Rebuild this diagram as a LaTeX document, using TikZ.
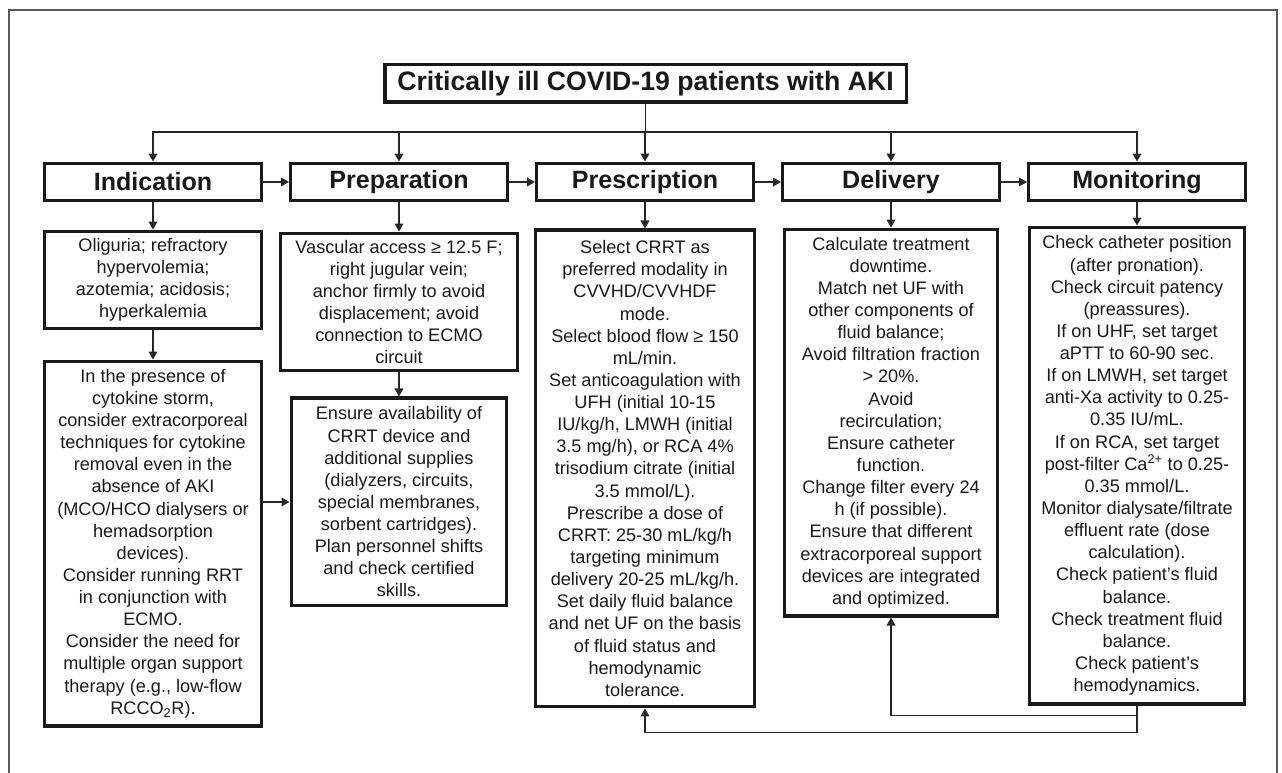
\documentclass[tikz,border=0pt]{standalone}
\usepackage{fontspec}
\setsansfont{Liberation Sans}
\RequirePackage{xcolor}
\tikzset{every picture/.style={/utils/exec={\sffamily}}}
\usetikzlibrary{positioning}
\usetikzlibrary{arrows.meta}

\begin{document}
\begin{tikzpicture}[x=0.75pt, y=-0.75pt,
    link/.style={draw=black!85, line width=1.1pt, -{Triangle[length=6pt,width=6.5pt]}},
    box/.style={draw=black!90, line width=2.6pt, align=center, inner sep=2pt, text=black!90},
    stagebox/.style={box, minimum width=162.4pt, minimum height=28.1pt, font=\fontsize{18.8pt}{22pt}\selectfont\bfseries},
    infobox/.style={box, font=\fontsize{13.6pt}{16.6pt}\selectfont}]
  \useasboundingbox (0,0) rectangle (1282,773);
  \draw [black!65, line width=1.5pt] (9,773) -- (9,10) -- (1277,10) -- (1277,773);

  \node [box, minimum width=391.1pt, minimum height=28.1pt, font=\fontsize{20pt}{24pt}\selectfont\bfseries] (title) at (645.5,83.5) {Critically ill COVID-19 patients with AKI};

  \begin{scope}[node distance=19.5pt]
    \node [stagebox] (ind) at (153,182) {Indication};
    \node [stagebox, right=of ind] (prep) {Preparation};
    \node [stagebox, right=of prep] (presc) {Prescription};
    \node [stagebox, right=of presc] (deliv) {Delivery};
    \node [stagebox, right=of deliv] (monit) {Monitoring};
  \end{scope}

  \node [infobox, below=20.3pt of ind, minimum width=162.4pt, minimum height=73.1pt] (ind1) {Oliguria; refractory\\hypervolemia;\\azotemia; acidosis;\\hyperkalemia};
  \node [infobox, below=21.8pt of ind1, minimum width=162.4pt, minimum height=273.4pt] (ind2) {In the presence of\\cytokine storm,\\consider extracorporeal\\techniques for cytokine\\removal even in the\\absence of AKI\\(MCO/HCO dialysers or\\hemadsorption\\devices).\\Consider running RRT\\in conjunction with\\ECMO.\\Consider the need for\\multiple organ support\\therapy (e.g., low-flow\\RCCO\textsubscript{2}R).};

  \node [infobox, below=21.8pt of prep, minimum width=178.1pt, minimum height=103.1pt] (prep1) {Vascular access ≥ 12.5 F;\\right jugular vein;\\anchor firmly to avoid\\displacement; avoid\\connection to ECMO\\circuit};
  \node [infobox, below=18pt of prep1, minimum width=161.6pt, minimum height=155.6pt] (prep2) {Ensure availability of\\CRRT device and\\additional supplies\\(dialyzers, circuits,\\special membranes,\\sorbent cartridges).\\Plan personnel shifts\\and check certified\\skills.};

  \node [infobox, below=19.5pt of presc, minimum width=163.9pt, minimum height=357.4pt] (presc1) {Select CRRT as\\preferred modality in\\CVVHD/CVVHDF\\mode.\\Select blood flow ≥ 150\\mL/min.\\Set anticoagulation with\\UFH (initial 10-15\\IU/kg/h, LMWH (initial\\3.5 mg/h), or RCA 4\%\\trisodium citrate (initial\\3.5 mmol/L).\\Prescribe a dose of\\CRRT: 25-30 mL/kg/h\\targeting minimum\\delivery 20-25 mL/kg/h.\\Set daily fluid balance\\and net UF on the basis\\of fluid status and\\hemodynamic\\tolerance.};

  \node [infobox, below=18.8pt of deliv, minimum width=160.1pt, minimum height=289.9pt] (deliv1) {Calculate treatment\\downtime.\\Match net UF with\\other components of\\fluid balance;\\Avoid filtration fraction\\> 20\%.\\Avoid\\recirculation;\\Ensure catheter\\function.\\Change filter every 24\\h (if possible).\\Ensure that different\\extracorporeal support\\devices are integrated\\and optimized.};

  \node [infobox, below=17.3pt of monit, minimum width=160.9pt, minimum height=357.4pt] (monit1) {Check catheter position\\(after pronation).\\Check circuit patency\\(preassures).\\If on UHF, set target\\aPTT to 60-90 sec.\\If on LMWH, set target\\anti-Xa activity to 0.25-\\0.35 IU/mL.\\If on RCA, set target\\post-filter Ca\textsuperscript{2+} to 0.25-\\0.35 mmol/L.\\Monitor dialysate/filtrate\\effluent rate (dose\\calculation).\\Check patient’s fluid\\balance.\\Check treatment fluid\\balance.\\Check patient’s\\hemodynamics.};

  \draw [link] (title.south) -- ++(0,28) -| (ind.north);
  \draw [link] (title.south) -- ++(0,28) -| (prep.north);
  \draw [link] (title.south) -- ++(0,28) -| (presc.north);
  \draw [link] (title.south) -- ++(0,28) -| (deliv.north);
  \draw [link] (title.south) -- ++(0,28) -| (monit.north);

  \draw [link] (ind) -- (prep);
  \draw [link] (prep) -- (presc);
  \draw [link] (presc) -- (deliv);
  \draw [link] (deliv) -- (monit);

  \draw [link] (ind) -- (ind1);
  \draw [link] (ind1) -- (ind2);
  \draw [link] (prep) -- (prep1);
  \draw [link] (prep1) -- (prep2);
  \draw [link] (presc) -- (presc1);
  \draw [link] (deliv) -- (deliv1);
  \draw [link] (monit) -- (monit1);
  \draw [link] (ind2.east |- prep2.west) -- (prep2.west);

  \draw [link] (monit1.south) -- ++(0,10) -| (deliv1.south);
  \draw [link] (monit1.south) -- ++(0,27) -| (presc1.south);
\end{tikzpicture}
\end{document}
